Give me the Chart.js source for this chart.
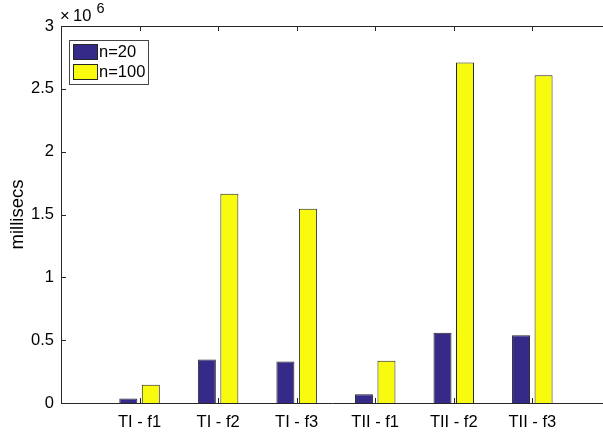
<!DOCTYPE html>
<html>
<head>
<meta charset="utf-8">
<script src="https://cdn.jsdelivr.net/npm/chart.js@4/dist/chart.umd.min.js"></script>
<style>
  html, body { margin: 0; padding: 0; background: #fff; overflow: hidden; }
  #wrap { width: 603px; height: 433px; overflow: hidden; }
  canvas { display: block; }
</style>
</head>
<body>
<div id="wrap"><canvas id="c" width="603" height="433"></canvas></div>
<script>
// ---- data ----
const categories = ['TI - f1', 'TI - f2', 'TI - f3', 'TII - f1', 'TII - f2', 'TII - f3'];
const seriesLabels = ['n=20', 'n=100'];
const n20 = [35000, 346000, 330000, 70000, 559000, 540000];
const n100 = [145000, 1665000, 1545000, 336000, 2710000, 2608000];
const yTicks = [0, 500000, 1000000, 1500000, 2000000, 2500000, 3000000];
const yMax = 3000000;
const xMax = 6.9;
const exponentLabel = '6';

const FONT = "'Liberation Sans', Arial, Helvetica, sans-serif";
const AXIS = '#262626';
const BLUE = 'rgb(53,42,135)';
const YELLOW = 'rgb(249,251,14)';

const toPoints = arr => arr.map((v, i) => ({ x: i + 1, y: v }));

const extras = {
  id: 'extras',
  afterDraw(chart) {
    const ctx = chart.ctx;
    const a = chart.chartArea;
    const xs = chart.scales.x, ys = chart.scales.y;
    ctx.save();
    ctx.strokeStyle = AXIS;
    ctx.lineWidth = 1;
    // top box line
    ctx.beginPath();
    ctx.moveTo(a.left, Math.round(a.top) + 0.5);
    ctx.lineTo(a.right, Math.round(a.top) + 0.5);
    ctx.stroke();
    // inward ticks on y
    yTicks.forEach(v => {
      const y = Math.round(ys.getPixelForValue(v)) + 0.5;
      ctx.beginPath();
      ctx.moveTo(a.left, y);
      ctx.lineTo(a.left + 5, y);
      ctx.stroke();
    });
    // inward ticks on x (bottom and top)
    categories.forEach((c, i) => {
      const x = Math.round(xs.getPixelForValue(i + 1)) + 0.5;
      ctx.beginPath();
      ctx.moveTo(x, a.bottom);
      ctx.lineTo(x, a.bottom - 5);
      ctx.moveTo(x, a.top);
      ctx.lineTo(x, a.top + 5);
      ctx.stroke();
    });
    // exponent label
    ctx.fillStyle = '#000';
    ctx.textBaseline = 'alphabetic';
    ctx.textAlign = 'left';
    ctx.font = '16.5px ' + FONT;
    ctx.fillText('\u00d7', a.left - 1, 21);
    ctx.fillText('10', a.left + 12, 21);
    ctx.font = '14.5px ' + FONT;
    ctx.fillText(exponentLabel, a.left + 35.5, 13);
    // legend
    const lx = 69.5, ly = 40.5, lw = 79, lh = 44;
    ctx.fillStyle = '#fff';
    ctx.fillRect(lx, ly, lw, lh);
    ctx.strokeStyle = '#444';
    ctx.strokeRect(lx, ly, lw, lh);
    ctx.font = '16.5px ' + FONT;
    ctx.textBaseline = 'middle';
    chart.data.datasets.forEach((ds, i) => {
      const sy = 44.5 + i * 20;
      ctx.fillStyle = ds.backgroundColor;
      ctx.fillRect(73.5, sy, 24, 15);
      ctx.strokeStyle = AXIS;
      ctx.strokeRect(73.5, sy, 24, 15);
      ctx.fillStyle = '#000';
      ctx.fillText(ds.label, 99, sy + 8);
    });
    ctx.restore();
  }
};

new Chart(document.getElementById('c'), {
  type: 'bar',
  data: {
    datasets: [
      { label: seriesLabels[0], data: toPoints(n20), backgroundColor: BLUE, borderColor: AXIS, borderWidth: 1 },
      { label: seriesLabels[1], data: toPoints(n100), backgroundColor: YELLOW, borderColor: AXIS, borderWidth: 1 }
    ]
  },
  options: {
    responsive: false,
    devicePixelRatio: 1,
    animation: false,
    categoryPercentage: 0.573,
    barPercentage: 0.8,
    layout: { padding: { top: 26, right: 0, bottom: 0, left: 0 } },
    plugins: { legend: { display: false }, tooltip: { enabled: false } },
    scales: {
      x: {
        type: 'linear',
        offset: false,
        min: 0,
        max: xMax,
        grid: { display: false, drawTicks: false },
        border: { display: true, color: AXIS, width: 1 },
        afterBuildTicks: s => { s.ticks = categories.map((c, i) => ({ value: i + 1 })); },
        afterFit: s => { s.height = 30; },
        ticks: {
          autoSkip: false, maxRotation: 0, padding: 10, color: '#000',
          font: { family: FONT, size: 16.5 },
          callback: v => categories[v - 1] || ''
        }
      },
      y: {
        min: 0,
        max: yMax,
        grid: { display: false, drawTicks: false },
        border: { display: true, color: AXIS, width: 1 },
        afterBuildTicks: s => { s.ticks = yTicks.map(v => ({ value: v })); },
        afterFit: s => { s.width = 61; },
        ticks: {
          padding: 7, color: '#000',
          font: { family: FONT, size: 16.5 },
          callback: v => String(v / 1e6)
        },
        title: {
          display: true, text: 'millisecs', color: '#000',
          font: { family: FONT, size: 18.5 },
          padding: { top: 7, bottom: 0 }
        }
      }
    }
  },
  plugins: [extras]
});
</script>
</body>
</html>
